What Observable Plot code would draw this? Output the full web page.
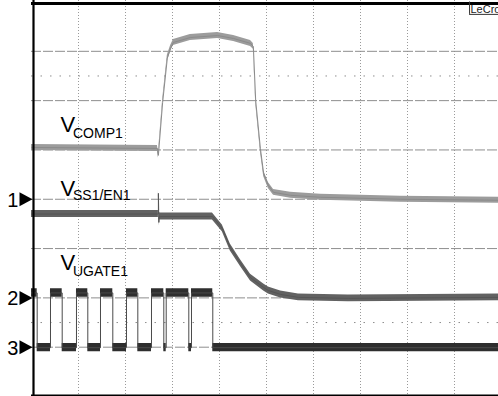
<!DOCTYPE html>
<html><head><meta charset="utf-8">
<script src="https://cdn.jsdelivr.net/npm/d3@7"></script>
<script src="https://cdn.jsdelivr.net/npm/@observablehq/plot@0.6"></script>
<style>
html,body{margin:0;padding:0;background:#fff;overflow:hidden}
#chart{width:498px;height:396px;overflow:hidden}
</style></head><body><div id="chart"></div>
<script>
// Time in horizontal divisions, amplitude in vertical divisions (0 = bottom of screen)
const compT = [0, 2.68, 2.70, 2.79, 2.89, 2.96, 3.02, 3.38, 3.96, 4.30, 4.66, 4.72, 4.77, 4.87, 4.94, 5.04, 5.15, 5.51, 6.15, 7.85, 9.94];
const compV = [5.05, 5.03, 4.89, 5.96, 6.86, 7.06, 7.18, 7.28, 7.32, 7.26, 7.16, 7.10, 6.00, 5.03, 4.52, 4.28, 4.14, 4.08, 4.04, 4.00, 3.98];
const ssT = [0, 2.68, 2.70, 2.70, 2.71, 2.72, 2.74, 3.85, 4.06, 4.23, 4.45, 4.66, 4.94, 5.04, 5.30, 5.68, 6.74, 9.94];
const ssV = [3.70, 3.70, 3.70, 4.12, 3.53, 3.66, 3.65, 3.65, 3.41, 3.02, 2.70, 2.41, 2.21, 2.15, 2.07, 2.01, 1.99, 2.01];
const gateEdges = [0.121, 0.404, 0.653, 0.957, 1.198, 1.468, 1.730, 2.021, 2.262, 2.553, 2.815, 2.866, 3.347, 3.404, 3.857];
const gateHigh = 2.10, gateLow = 0.99, gateEnd = 9.94;
const markerNames = ["1", "2", "3"];
const markerLevels = [4, 2, 1];
const labelMain = ["V", "V", "V"];
const labelSub = ["COMP1", "SS1/EN1", "UGATE1"];
const gridX = [1, 2, 3, 4, 5, 6, 7, 8, 9];
const gridY = [1, 2, 3, 4, 5, 6, 7];
const halfY = [1.5, 6.5];
const brand = "LeCroy";

const comp = compT.map((t, i) => ({t, v: compV[i]}));
const ss = ssT.map((t, i) => ({t, v: ssV[i]}));
const gate = [{t: 0, v: gateHigh}];
let state = gateHigh;
for (const e of gateEdges) {
  gate.push({t: e, v: state});
  state = state === gateHigh ? gateLow : gateHigh;
  gate.push({t: e, v: state});
}
gate.push({t: gateEnd, v: state});

const rightTri = {draw(ctx, size) {
  const r = Math.sqrt(size / Math.PI);
  ctx.moveTo(r * 0.93, 0); ctx.lineTo(-r * 0.93, -r); ctx.lineTo(-r * 0.93, r); ctx.closePath();
}};

const F = "Liberation Sans, Arial, Helvetica, sans-serif";
const band = (data, h, fill, stroke) => [
  Plot.areaY(data, {x: "t", y1: d => d.v - h, y2: d => d.v + h, fill, curve: "linear"}),
  Plot.line(data, {x: "t", y: "v", stroke, strokeWidth: 1, curve: "linear"})
];
// label anchors (data coordinates): [x, yMain, ySub]
const labelPos = [[0.617, 5.355, 5.25], [0.617, 4.07, 3.99], [0.617, 2.556, 2.434]];

const chart = Plot.plot({
  width: 498, height: 396,
  marginLeft: 31, marginRight: 0, marginTop: 0, marginBottom: 0,
  x: {domain: [0, 9.936], axis: null},
  y: {domain: [0, 8], range: [396, 1.5], axis: null},
  style: {background: "#fff", fontFamily: F, overflow: "hidden"},
  marks: [
    Plot.ruleX(gridX, {stroke: "#9a9a9a", strokeDasharray: "1,2"}),
    Plot.ruleY(gridY, {stroke: "#8e8e8e", strokeDasharray: "10,2"}),
    Plot.ruleY(halfY, {stroke: "#8e8e8e", strokeDasharray: "1.5,8"}),
    ...band(comp, 0.06, "#9c9c9c", "#8a8a8a"),
    ...band(ss, 0.07, "#626262", "#555"),
    ...band(gate, 0.085, "#2e2e2e", "#4a4a4a"),
    Plot.ruleX([0], {dx: 2, stroke: "#000", strokeWidth: 2.2}),
    Plot.ruleY([8], {dy: 1.5, stroke: "#000", strokeWidth: 3}),
    Plot.ruleY([0], {dy: -1, stroke: "#000", strokeWidth: 2}),
    ...labelMain.map((m, i) => Plot.text([m], {x: () => labelPos[i][0], y: () => labelPos[i][1], text: d => d, lineAnchor: "bottom", textAnchor: "start", fontSize: 22, fill: "#000"})),
    ...labelSub.map((s, i) => Plot.text([s], {x: () => labelPos[i][0], y: () => labelPos[i][2], dx: 12.5, text: d => d, lineAnchor: "bottom", textAnchor: "start", fontSize: 14, fill: "#000"})),
    Plot.text(markerNames, {x: () => -0.277, y: (d, i) => markerLevels[i], dy: 7.5, text: d => d, lineAnchor: "bottom", textAnchor: "end", fontSize: 20, fill: "#000"}),
    Plot.dot(markerLevels, {x: () => -0.117, y: d => d, r: 7, symbol: rightTri, fill: "#000", stroke: "none"}),
    Plot.text([brand], {x: () => 9.34, y: () => 7.775, text: d => d, lineAnchor: "bottom", textAnchor: "start", fontSize: 11, fill: "#222"}),
    Plot.ruleY([7.749], {x1: 9.32, x2: 9.936, stroke: "#333", strokeWidth: 1}),
    Plot.ruleX([9.32], {y1: 7.749, y2: 8, stroke: "#333", strokeWidth: 1})
  ]
});
document.getElementById("chart").append(chart);
</script></body></html>
